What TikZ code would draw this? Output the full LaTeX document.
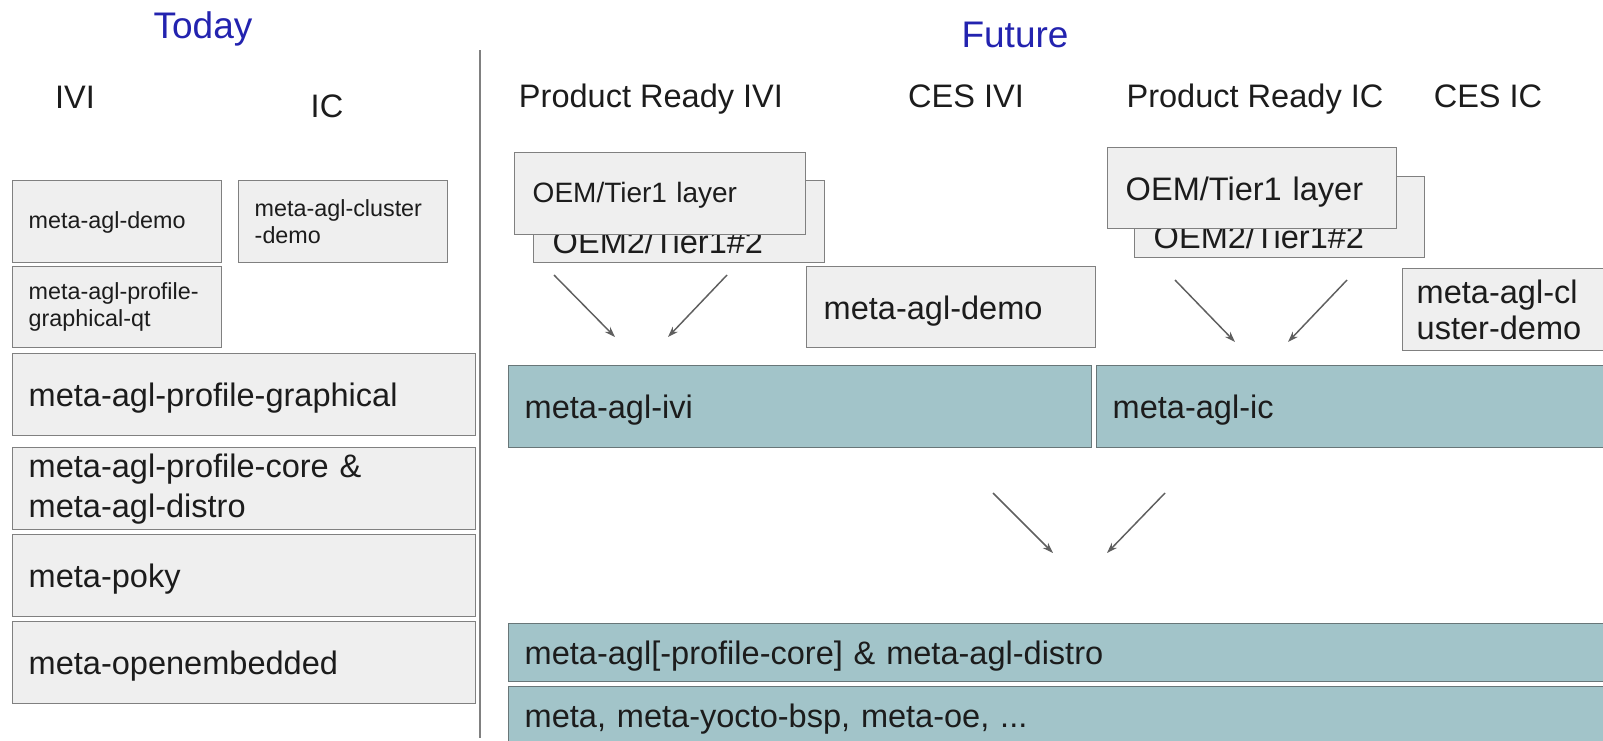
\documentclass[tikz,border=0pt]{standalone}
\usepackage{fontspec}
\setmainfont{Liberation Sans}
\usetikzlibrary{positioning,arrows.meta,calc}

\definecolor{boxfill}{RGB}{239,239,239}
\definecolor{boxline}{RGB}{128,128,128}
\definecolor{tealfill}{RGB}{162,196,201}
\definecolor{tealline}{RGB}{104,118,120}
\definecolor{arrowgray}{RGB}{95,95,95}
\definecolor{titleblue}{RGB}{35,35,175}
\definecolor{inkgray}{RGB}{28,28,28}

\newcommand{\smallsz}{\fontsize{17.5pt}{20.25pt}\selectfont}
\newcommand{\midsz}{\fontsize{21pt}{25pt}\selectfont}
\newcommand{\bigsz}{\fontsize{24.4pt}{30pt}\selectfont}
\newcommand{\titlesz}{\fontsize{27.75pt}{32pt}\selectfont}

\begin{document}
\begin{tikzpicture}[x=0.75pt, y=-0.75pt,
    layer/.style={rectangle, draw=boxline, fill=boxfill, line width=1.1pt,
        anchor=north west, inner xsep=12pt, inner ysep=0pt, align=left,
        font=\bigsz, text=inkgray},
    core/.style={layer, draw=tealline, fill=tealfill},
    oneline/.style={text height=20pt, text depth=2pt},
    peek/.style={text height=54pt, text depth=7pt},
    hdr/.style={anchor=base, font=\bigsz, text=inkgray},
    ttl/.style={anchor=base, font=\titlesz, text=titleblue},
    flow/.style={draw=arrowgray, line width=1.1pt, -{Stealth[length=8pt,width=5.5pt]}}]

    \useasboundingbox (0,0) rectangle (1603,740);

    % today
    \node[ttl] (today) at (203,38) {Today};
    \node[hdr] (ivi) at (75,108) {IVI};
    \node[hdr] (ic) at (327,117) {IC};

    \node[layer, font=\smallsz, text height=14pt, text depth=3.5pt,
        text width=132.75pt, minimum height=61.5pt] (demoL) at (12,180) {meta-agl-demo};
    \node[layer, font=\smallsz, text width=132.75pt, minimum height=61.5pt]
        (clusterL) at (238,180) {meta-agl-cluster\\-demo};
    \node[layer, font=\smallsz, text width=132.75pt, minimum height=60.75pt]
        (qtL) at (12,266) {meta-agl-profile-\\graphical-qt};
    \node[layer, oneline, text width=323.25pt, minimum height=61.5pt]
        (graphL) at (12,353) {meta-agl-profile-graphical};
    \node[layer, text width=323.25pt, minimum height=61.5pt]
        (coreL) at (12,447) {meta-agl-profile-core \&\\meta-agl-distro};
    \node[layer, oneline, text width=323.25pt, minimum height=61.5pt]
        (pokyL) at (12,534) {meta-poky};
    \node[layer, oneline, text width=323.25pt, minimum height=61.5pt]
        (oeL) at (12,621) {meta-openembedded};

    \draw[boxline, line width=1pt] (480,50) -- (480,738);

    % future
    \node[ttl] (future) at (1015,47) {Future};
    \node[hdr] (prIVI) at (651,107) {Product Ready IVI};
    \node[hdr] (cesIVI) at (966,107) {CES IVI};
    \node[hdr] (prIC) at (1255,107) {Product Ready IC};
    \node[hdr] (cesIC) at (1488,107) {CES IC};

    \node[layer, peek, inner xsep=14.25pt, text width=189.75pt, minimum height=61.5pt]
        (oemB1) at (533,180) {OEM2/Tier1\#2};
    \node[layer, font=\midsz, text height=16pt, text depth=2.5pt, inner xsep=13.5pt,
        text width=191.25pt, minimum height=61.5pt] (oemF1) at (514,152) {OEM/Tier1 layer};
    \node[layer, oneline, inner xsep=12.75pt, text width=191.25pt, minimum height=60.75pt]
        (demoF) at (806,266) {meta-agl-demo};
    \node[layer, peek, text depth=6.75pt, inner xsep=14.25pt, text width=189pt,
        minimum height=60.75pt] (oemB2) at (1134,176) {OEM2/Tier1\#2};
    \node[layer, oneline, inner xsep=13.5pt, text width=189.75pt, minimum height=60.75pt]
        (oemF2) at (1107,147) {OEM/Tier1 layer};
    \node[layer, font={\fontsize{24.4pt}{27pt}\selectfont}, inner xsep=10.5pt,
        text width=144pt, minimum height=61.5pt] (clusterF) at (1402,268) {meta-agl-cl\\uster-demo};

    \node[core, oneline, text width=413.25pt, minimum height=61.5pt]
        (iviF) at (508,365) {meta-agl-ivi};
    \node[core, oneline, text width=366pt, minimum height=61.5pt]
        (icF) at (1096,365) {meta-agl-ic};
    \node[core, oneline, text height=19pt, text width=808.5pt, minimum height=43.5pt]
        (distroF) at (508,623) {meta-agl[-profile-core] \& meta-agl-distro};
    \node[core, oneline, text width=808.5pt, minimum height=43.5pt]
        (baseF) at (508,686) {meta, meta-yocto-bsp, meta-oe, ...};

    % arrows
    \coordinate (ivi1s) at (554,275);  \coordinate (ivi1e) at (615,337);
    \coordinate (ivi2s) at (727,275);  \coordinate (ivi2e) at (668,337);
    \coordinate (ic1s) at (1175,280);  \coordinate (ic1e) at (1235,342);
    \coordinate (ic2s) at (1347,280);  \coordinate (ic2e) at (1288,342);
    \coordinate (bot1s) at (993,493);  \coordinate (bot1e) at (1053,553);
    \coordinate (bot2s) at (1165,493); \coordinate (bot2e) at (1107,553);

    \draw[flow] (ivi1s) -- (ivi1e);
    \draw[flow] (ivi2s) -- (ivi2e);
    \draw[flow] (ic1s) -- (ic1e);
    \draw[flow] (ic2s) -- (ic2e);
    \draw[flow] (bot1s) -- (bot1e);
    \draw[flow] (bot2s) -- (bot2e);

\end{tikzpicture}
\end{document}
